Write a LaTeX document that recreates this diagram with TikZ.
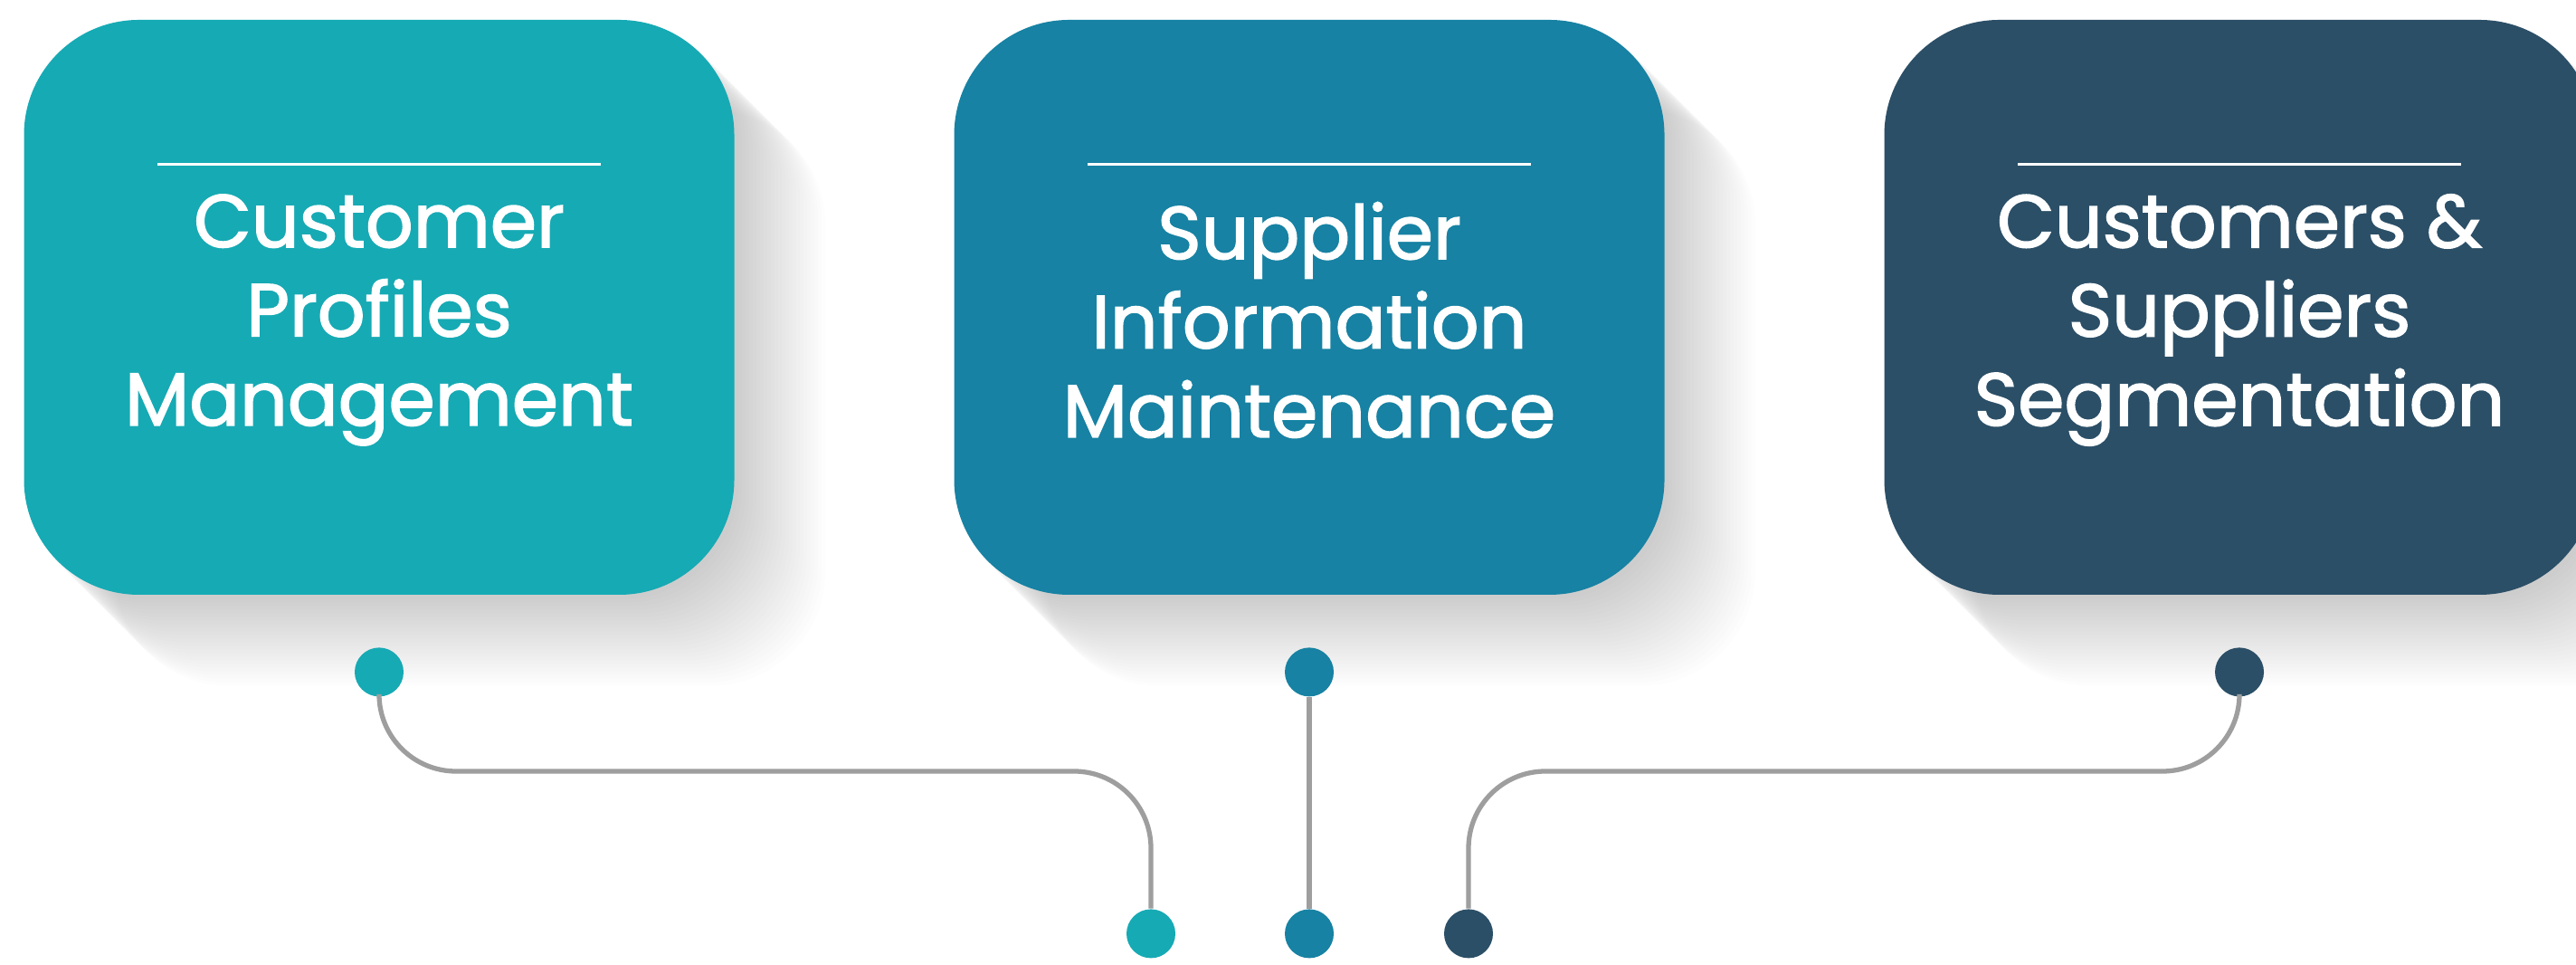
\documentclass[tikz,border=0pt]{standalone}
\usepackage{fontspec}
\setmainfont{Poppins}
\newfontfamily\cardfont{Poppins}[FakeBold=1.8]
\usetikzlibrary{positioning,calc,backgrounds}
\definecolor{tealA}{RGB}{22,170,180}
\definecolor{tealB}{RGB}{23,130,163}
\definecolor{navyC}{RGB}{43,79,103}
\definecolor{linkgray}{RGB}{158,158,158}

\begin{document}
\begin{tikzpicture}[
  card/.style={rectangle, rounded corners=1.27cm, minimum width=7.85cm, minimum height=6.35cm, inner sep=0pt},
  title/.style={text=white, align=center, inner sep=0pt, font=\cardfont\fontsize{23.5}{28}\selectfont},
  dot/.style={circle, minimum size=0.54cm, inner sep=0pt},
  link/.style={draw=linkgray, line width=1.5pt, rounded corners=0.85cm},
  node distance=10.28cm
]
\useasboundingbox (0,0) rectangle (28.47,10.66);

\node[card, fill=tealA] (cpm) at (4.19,7.265) {};
\node[card, fill=tealB, right of=cpm] (sim) {};
\node[card, fill=navyC, right of=sim] (css) {};

\node[title, yshift=-0.14cm] (cpmtext) at (cpm.center) {Customer\\Profiles\\Management};
\node[title, yshift=-0.14cm] (simtext) at (sim.center) {Supplier\\Information\\Maintenance};
\node[title, yshift=-0.14cm] (csstext) at (css.center) {Customers \&\\Suppliers\\Segmentation};

% thin rule above each title
\foreach \n in {cpm,sim,css}
  \draw[white, line width=1pt] ($(\n.north)+(-2.45,-1.6)$) -- ($(\n.north)+(2.45,-1.6)$);

\node[dot, fill=tealA, below=0.57cm of cpm] (t1) {};
\node[dot, fill=tealB, below=0.57cm of sim] (t2) {};
\node[dot, fill=navyC, below=0.57cm of css] (t3) {};
\node[dot, fill=tealB, below of=t2, node distance=2.89cm] (b2) {};
\node[dot, fill=tealA, left of=b2, node distance=1.75cm] (b1) {};
\node[dot, fill=navyC, right of=b2, node distance=1.76cm] (b3) {};
\coordinate (bus) at (0,2.14);

\draw[link] (t1) -- (t1 |- bus) -- (b1 |- bus) -- (b1);
\draw[link] (t2) -- (b2);
\draw[link] (t3) -- (t3 |- bus) -- (b3 |- bus) -- (b3);

% soft long shadow behind the cards
\begin{scope}[on background layer]
  \fill[white] (0,0) rectangle (28.47,10.66);
  \foreach \n in {cpm,sim,css}
    \foreach \d in {1,...,25}
      \fill[black, opacity=0.006, rounded corners=1.27cm] ($(\n.south west)+(\d*0.04,-\d*0.04)$) rectangle ($(\n.north east)+(\d*0.04,-\d*0.04)$);
\end{scope}
\end{tikzpicture}
\end{document}
